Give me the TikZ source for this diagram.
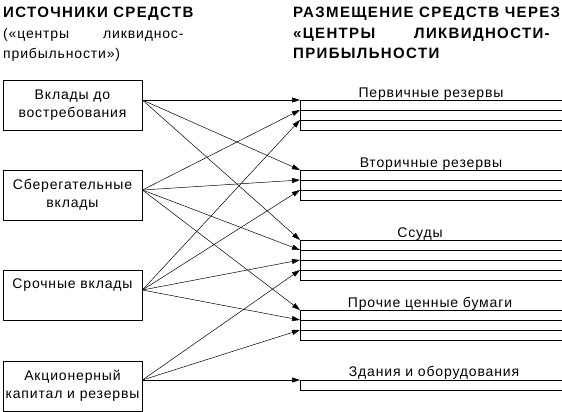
\documentclass[tikz,border=0pt]{standalone}
\usepackage{fontspec}
\setmainfont{Liberation Sans}[LetterSpace=6]
\usetikzlibrary{arrows.meta}
\begin{document}
\begin{tikzpicture}[x=1pt,y=-1pt,
  srcbox/.style={draw, line width=0.8pt, minimum width=139pt, minimum height=50pt, inner sep=0pt, align=center, font=\fontsize{14}{18}\selectfont},
  conn/.style={line width=0.5pt, -{Triangle[length=8pt,width=5pt]}},
  shelf/.style={line width=0.8pt},
  lbl/.style={anchor=base, inner sep=0pt, font=\fontsize{14}{18}\selectfont},
  hdr/.style={anchor=base west, inner sep=0pt, font=\fontsize{15}{20}\selectfont\bfseries\addfontfeature{LetterSpace=9}},
  subhdr/.style={anchor=base west, inner sep=0pt, font=\fontsize{14}{18}\selectfont}]
\useasboundingbox (0,0) rectangle (562,412);
\clip (0,0) rectangle (562,412);

% headers
\node[hdr] (h1) at (3,18) {ИСТОЧНИКИ СРЕДСТВ};
\node[subhdr] (h2) at (3,39) {\makebox[100pt][l]{(«центры}ликвиднос-};
\node[subhdr] (h3) at (3,59) {прибыльности»)};
\node[hdr] (h4) at (293,18) {РАЗМЕЩЕНИЕ СРЕДСТВ ЧЕРЕЗ};
\node[hdr] (h5) at (293,39) {\makebox[121pt][l]{«ЦЕНТРЫ}ЛИКВИДНОСТИ-};
\node[hdr] (h6) at (293,59) {ПРИБЫЛЬНОСТИ};

% source boxes
\node[srcbox] (b1) at (72.5,105) {Вклады до\\востребования};
\node[srcbox] (b2) at (72.5,195) {Сберегательные\\вклады};
\node[srcbox, text height=10pt, text depth=24pt] (b3) at (72.5,295) {Срочные вклады};
\node[srcbox] (b4) at (72.5,386) {Акционерный\\капитал и резервы};

\coordinate (s1) at ([yshift=5pt]b1.east);
\coordinate (s2) at ([yshift=5pt]b2.east);
\coordinate (s3) at ([yshift=5pt]b3.east);
\coordinate (s4) at ([yshift=6pt]b4.east);

% shelves
\foreach \g/\ty/\k in {1/100/4, 2/170/4, 3/240/5, 4/310/4, 5/380/2} {
  \foreach \i in {1,...,\k} {
    \coordinate (g\g-\i) at (300,{\ty+10*(\i-1)});
    \draw[shelf] (g\g-\i) -- ++(290,0);
  }
  \draw[shelf] (g\g-1) -- (g\g-\k);
}

% shelf labels
\node[lbl] (l1) at (431,97) {Первичные резервы};
\node[lbl] (l2) at (431,167) {Вторичные резервы};
\node[lbl] (l3) at (420,237) {Ссуды};
\node[lbl] (l4) at (430,307) {Прочие ценные бумаги};
\node[lbl] (l5) at (434,376) {Здания и оборудования};

% connectors
\draw[conn] (s1) -- (g1-1);
\draw[conn] (s1) -- (g2-1);
\draw[conn] (s1) -- (g3-1);
\draw[conn] (s2) -- (g1-2);
\draw[conn] (s2) -- (g2-2);
\draw[conn] (s2) -- (g3-2);
\draw[conn] (s2) -- (g4-1);
\draw[conn] (s3) -- (g1-3);
\draw[conn] (s3) -- (g2-3);
\draw[conn] (s3) -- (g3-3);
\draw[conn] (s3) -- (g4-2);
\draw[conn] (s4) -- (g3-4);
\draw[conn] (s4) -- (g4-3);
\draw[conn] (s4) -- (g5-1);
\end{tikzpicture}
\end{document}
